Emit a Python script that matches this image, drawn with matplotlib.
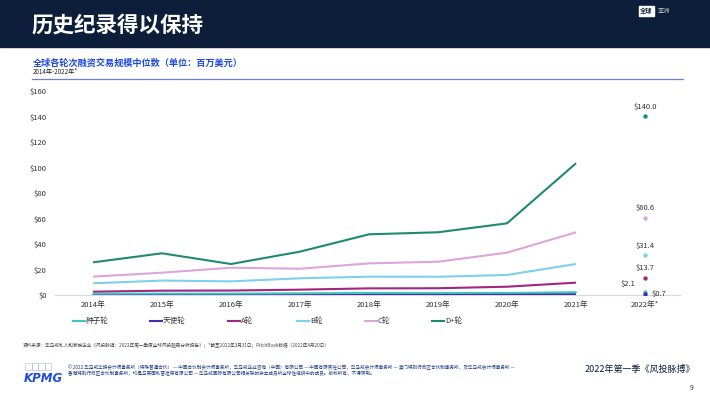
import numpy as np
import matplotlib
matplotlib.use("Agg")
import matplotlib.pyplot as plt
from matplotlib.patches import Rectangle
from matplotlib.lines import Line2D

plt.rcParams['font.family'] = ['Noto Sans CJK SC', 'DejaVu Sans']

years = ["2014年", "2015年", "2016年", "2017年", "2018年", "2019年", "2020年", "2021年", "2022年*"]
series_names = ["种子轮", "天使轮", "A轮", "B轮", "C轮", "D+轮"]
series_colors = ["#3cc8bd", "#4a2bb0", "#a3257f", "#7dd0ee", "#dca6da", "#1e8a6f"]

# 2014-2021 lines
seed = [0.9, 1.0, 1.0, 1.2, 1.5, 1.5, 1.6, 2.0]
angel = [0.4, 0.5, 0.5, 0.5, 0.5, 0.5, 0.6, 0.6]
round_a = [2.6, 3.4, 3.5, 4.2, 5.2, 5.3, 6.5, 9.7]
round_b = [9.2, 11.3, 10.7, 13.1, 14.4, 14.3, 15.7, 24.3]
round_c = [14.4, 17.5, 21.4, 20.6, 24.8, 26.1, 33.2, 49.2]
round_d = [25.6, 32.7, 24.3, 34.0, 47.6, 49.2, 56.2, 103.3]
lines_data = [seed, angel, round_a, round_b, round_c, round_d]

# 2022* single points
pts_2022 = [2.1, 0.7, 13.7, 31.4, 60.6, 140.0]
yticks = [0, 20, 40, 60, 80, 100, 120, 140, 160]

W, H = 710, 399
fig = plt.figure(figsize=(7.1, 3.99), dpi=100)
fig.patch.set_facecolor("white")

def fx(px):
    return px / W

def fy(py):
    return 1 - py / H

# header band
fig.patches.append(Rectangle((0, fy(47)), 1, 47 / H, transform=fig.transFigure,
                             color="#0c1e3a", zorder=0))
fig.text(fx(32), fy(25), "历史纪录得以保持", color="white", fontsize=15.5,
         fontweight="bold", va="center", ha="left")
fig.text(fx(646), fy(11), "全球", color="#0c1e3a", fontsize=4.5, fontweight="bold",
         va="center", ha="center",
         bbox=dict(boxstyle="square,pad=0.2", fc="white", ec="white"))
fig.text(fx(664), fy(11), "亚洲", color="#c8ccd4", fontsize=4.5, va="center", ha="center")

# subtitle
fig.text(fx(33), fy(63), "全球各轮次融资交易规模中位数（单位：百万美元）", color="#1e49e2",
         fontsize=6.6, fontweight="bold", va="center", ha="left")
fig.text(fx(33), fy(72.5), "2014年-2022年*", color="#222222", fontsize=4.5,
         va="center", ha="left")
fig.add_artist(Line2D([fx(32), fx(683)], [fy(79), fy(79)], color="#6d7fd6", lw=0.9))

# chart axes
left, right = 55, 680
top, bottom = 91, 295
ax = fig.add_axes([fx(left), fy(bottom), (right - left) / W, (bottom - top) / H])
x0 = (left - 93) / 69.0
x1 = (right - 93) / 69.0
ax.set_xlim(x0, x1)
ax.set_ylim(0, 160)

x = np.arange(8)
for vals, col in zip(lines_data, series_colors):
    ax.plot(x, vals, color=col, lw=1.5, solid_capstyle="butt", zorder=3)
ax.plot(x, seed, color=series_colors[0], lw=1.2, zorder=4)

for v, col in zip(pts_2022, series_colors):
    ax.scatter([8], [v], s=10, color=col, zorder=5, linewidths=0)

for i, v in enumerate(pts_2022):
    if i == 0:
        ax.annotate(f"${v:.1f}", (8, v), xytext=(-7, 3), textcoords="offset points",
                    ha="right", va="bottom", fontsize=5.5, color="#333333")
    elif i == 1:
        ax.annotate(f"${v:.1f}", (8, v), xytext=(5, 0), textcoords="offset points",
                    ha="left", va="center", fontsize=5.5, color="#333333")
    else:
        ax.annotate(f"${v:.1f}", (8, v), xytext=(0, 4), textcoords="offset points",
                    ha="center", va="bottom", fontsize=5.5, color="#333333")

ax.set_yticks(yticks)
ax.set_yticklabels([f"${t}" for t in yticks])
ax.set_xticks(np.arange(9))
ax.set_xticklabels(years)
ax.tick_params(axis="both", length=0, labelsize=5.5, labelcolor="#333333")
ax.tick_params(axis="y", pad=6)
ax.tick_params(axis="x", pad=4)
for s in ["top", "right", "left"]:
    ax.spines[s].set_visible(False)
ax.spines["bottom"].set_color("#d8d8e8")
ax.spines["bottom"].set_linewidth(0.8)
ax.patch.set_alpha(0)

# legend, one entry every ~70px
leg_x = [73, 150, 228, 297, 365, 432]
for lx, name, col in zip(leg_x, series_names, series_colors):
    fig.add_artist(Line2D([fx(lx), fx(lx + 12)], [fy(321), fy(321)], color=col, lw=1.5))
    fig.text(fx(lx + 13), fy(321), name, fontsize=5.5, color="#333333",
             va="center", ha="left")

# source note
fig.text(fx(23), fy(345),
         "资料来源：毕马威私人和家族企业《风投脉搏：2022年第一季度全球风投趋势分析报告》；*截至2022年3月31日；PitchBook数据（2022年4月20日）",
         fontsize=3.3, color="#444444", va="center", ha="left")

# footer
fig.text(fx(24), fy(379), "KPMG", color="#1e49e2", fontsize=8.5, fontweight="bold",
         fontstyle="italic", va="center", ha="left", family="DejaVu Sans")
for k in range(4):
    fig.add_artist(Rectangle((fx(25 + k * 6.5), fy(370)), 6.5 / W, 7 / H,
                             transform=fig.transFigure, fill=False, ec="#b0b8d8", lw=0.4))
fig.text(fx(68), fy(368),
         "© 2022 毕马威华振会计师事务所（特殊普通合伙） — 中国合伙制会计师事务所，毕马威企业咨询（中国）有限公司 — 中国有限责任公司，毕马威会计师事务所 — 澳门特别行政区合伙制事务所，及毕马威会计师事务所 —",
         fontsize=3.3, color="#1e3a8a", va="center", ha="left")
fig.text(fx(68), fy(373.5),
         "香港特别行政区合伙制事务所，均是与英国私营担保有限公司 — 毕马威国际有限公司相关联的独立成员所全球性组织中的成员。版权所有，不得转载。",
         fontsize=3.3, color="#1e3a8a", va="center", ha="left")
fig.text(fx(695), fy(369), "2022年第一季《风投脉搏》", fontsize=6.5, color="#0c1e3a",
         va="center", ha="right")
fig.text(fx(693), fy(388), "9", fontsize=5, color="#333333", va="center", ha="right")

fig.savefig("out.png", dpi=100)
